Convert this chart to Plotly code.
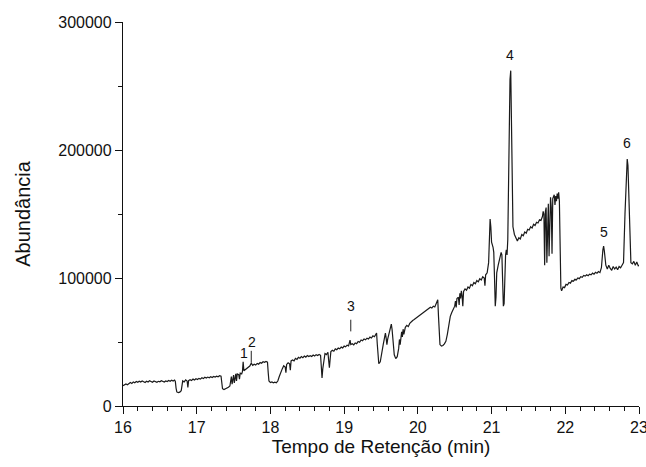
import plotly.graph_objects as go

# Retention time (min) and abundance
tempo = [
    16.00, 16.02, 16.04, 16.06, 16.08, 16.10, 16.12, 16.14, 16.16, 16.18,
    16.20, 16.22, 16.24, 16.26, 16.28, 16.30, 16.32, 16.34, 16.36, 16.38,
    16.40, 16.42, 16.44, 16.46, 16.48, 16.50, 16.52, 16.54, 16.56, 16.58,
    16.60, 16.62, 16.64, 16.66, 16.68, 16.70, 16.71, 16.72, 16.73, 16.75,
    16.77, 16.79, 16.80, 16.81, 16.83, 16.85, 16.87, 16.88, 16.89, 16.91,
    16.93, 16.95, 16.97, 16.99, 17.01, 17.03, 17.05, 17.07, 17.09, 17.11,
    17.13, 17.15, 17.17, 17.19, 17.21, 17.23, 17.25, 17.27, 17.29, 17.31,
    17.33, 17.34, 17.35, 17.37, 17.39, 17.41, 17.43, 17.45, 17.46, 17.47,
    17.48, 17.49, 17.50, 17.51, 17.52, 17.53, 17.54, 17.55, 17.57, 17.58,
    17.59, 17.61, 17.62, 17.63, 17.64, 17.66, 17.68, 17.70, 17.72, 17.74,
    17.76, 17.78, 17.80, 17.82, 17.84, 17.86, 17.88, 17.90, 17.92, 17.94,
    17.96, 17.97, 17.98, 18.00, 18.02, 18.04, 18.06, 18.08, 18.10, 18.12,
    18.14, 18.16, 18.18, 18.20, 18.21, 18.22, 18.24, 18.26, 18.27, 18.28,
    18.30, 18.32, 18.34, 18.36, 18.38, 18.40, 18.42, 18.44, 18.46, 18.48,
    18.50, 18.52, 18.54, 18.56, 18.58, 18.60, 18.62, 18.64, 18.66, 18.68,
    18.69, 18.70, 18.71, 18.72, 18.74, 18.76, 18.78, 18.79, 18.80, 18.81,
    18.82, 18.84, 18.86, 18.88, 18.90, 18.92, 18.94, 18.96, 18.98, 19.00,
    19.02, 19.04, 19.06, 19.08, 19.09, 19.11, 19.13, 19.15, 19.17, 19.19,
    19.21, 19.23, 19.25, 19.27, 19.29, 19.31, 19.33, 19.35, 19.37, 19.39,
    19.41, 19.43, 19.44, 19.45, 19.46, 19.47, 19.49, 19.51, 19.53, 19.55,
    19.56, 19.57, 19.58, 19.59, 19.61, 19.63, 19.64, 19.65, 19.66, 19.68,
    19.70, 19.72, 19.74, 19.75, 19.76, 19.78, 19.79, 19.80, 19.81, 19.83,
    19.85, 19.87, 19.89, 19.91, 19.93, 19.95, 19.97, 19.99, 20.01, 20.03,
    20.05, 20.07, 20.09, 20.11, 20.13, 20.15, 20.17, 20.19, 20.21, 20.23,
    20.25, 20.27, 20.28, 20.29, 20.30, 20.32, 20.34, 20.36, 20.38, 20.40,
    20.42, 20.44, 20.46, 20.48, 20.50, 20.51, 20.52, 20.53, 20.55, 20.56,
    20.57, 20.58, 20.59, 20.60, 20.61, 20.62, 20.64, 20.66, 20.68, 20.70,
    20.72, 20.74, 20.76, 20.78, 20.80, 20.82, 20.84, 20.86, 20.88, 20.90,
    20.91, 20.92, 20.94, 20.96, 20.97, 20.98, 20.99, 21.00, 21.02, 21.03,
    21.04, 21.05, 21.06, 21.07, 21.09, 21.11, 21.13, 21.14, 21.15, 21.16,
    21.17, 21.18, 21.19, 21.20, 21.21, 21.22, 21.23, 21.24, 21.25, 21.26,
    21.27, 21.28, 21.29, 21.31, 21.33, 21.35, 21.37, 21.39, 21.41, 21.43,
    21.45, 21.47, 21.49, 21.51, 21.53, 21.55, 21.57, 21.59, 21.61, 21.63,
    21.65, 21.67, 21.69, 21.70, 21.71, 21.72, 21.73, 21.74, 21.75, 21.76,
    21.77, 21.78, 21.79, 21.80, 21.81, 21.82, 21.83, 21.85, 21.86, 21.87,
    21.88, 21.89, 21.90, 21.91, 21.92, 21.93, 21.94, 21.95, 21.97, 21.99,
    22.01, 22.03, 22.05, 22.07, 22.09, 22.11, 22.13, 22.15, 22.17, 22.19,
    22.21, 22.23, 22.25, 22.27, 22.29, 22.31, 22.33, 22.35, 22.37, 22.39,
    22.41, 22.43, 22.45, 22.47, 22.49, 22.51, 22.52, 22.53, 22.55, 22.57,
    22.59, 22.61, 22.63, 22.65, 22.67, 22.69, 22.71, 22.73, 22.75, 22.77,
    22.79, 22.81, 22.83, 22.84, 22.85, 22.87, 22.88, 22.89, 22.91, 22.93,
    22.95, 22.97, 22.99, 23.00,
]

abundancia = [
    15800, 16900, 17200, 16600, 17800, 18300, 17600, 18800, 18200, 19100,
    18500, 19400, 18700, 19600, 19000, 18400, 19300, 18800, 19700, 19100,
    18600, 19500, 19000, 18500, 19300, 18900, 19800, 19200, 18700, 19600,
    19100, 19900, 19300, 20100, 19500, 20300, 19200, 14000, 11000, 10400,
    10800, 12000, 17500, 19600, 18800, 20400, 19500, 14500, 19800, 20600,
    19900, 21000, 20300, 21300, 20700, 21600, 21000, 22000, 21400, 22400,
    21800, 22600, 22100, 22900, 22300, 23100, 22600, 23300, 22800, 23600,
    23200, 18000, 13500, 12800, 13200, 13900, 14600, 15600, 20500, 23000,
    17000, 23500, 24200, 18000, 24600, 25100, 19500, 25000, 24500, 21000,
    25600, 25100, 26800, 34500, 27500, 28600, 29800, 30500, 31200, 33500,
    31800, 32600, 32000, 33300, 32700, 34000, 33400, 34600, 34100, 34800,
    34300, 26000, 19500, 18300, 18800, 18100, 18600, 18200, 19500, 23000,
    26500, 29000, 31500, 30500, 26000, 32500, 33800, 33000, 28000, 35200,
    36000, 35300, 37200, 36400, 38000, 37300, 38600, 37800, 39000, 38200,
    39400, 38600, 39300, 38700, 39800, 39100, 40100, 39500, 40300, 39600,
    31000, 22000, 29000, 34000, 41000, 40200, 42000, 35500, 30000, 36500,
    42500, 43500, 42800, 44600, 44000, 45300, 44700, 46000, 45400, 46800,
    46200, 47500, 47000, 51500, 48000, 48600, 47800, 49300, 48700, 50400,
    49800, 51600, 51000, 52400, 51700, 53000, 52300, 53800, 53100, 54800,
    54100, 56000, 57000, 48000, 36000, 33000, 34500, 40000, 48000, 54000,
    57000, 53000, 48000, 52000, 58000, 63000, 64000, 60000, 50000, 40000,
    37000, 38500, 45000, 52000, 48000, 58000, 54000, 60000, 56000, 61500,
    63000, 62000, 64500, 65800, 66800, 67500, 68400, 69100, 70000, 71200,
    72000, 73100, 74000, 74800, 75600, 76300, 77200, 76600, 78000, 77400,
    80500, 83000, 70000, 55000, 48000, 46800, 47300, 48500, 50500, 56000,
    64000, 70000, 73000, 75000, 78000, 82000, 77000, 84000, 85000, 79000,
    88000, 84000, 90000, 86000, 78000, 89500, 91500, 90500, 93000, 92000,
    95000, 94000, 96500, 95500, 98000, 97000, 99500, 98500, 101000, 100000,
    94000, 102500, 104000, 112000, 140000, 146000, 140000, 128000, 124000, 120000,
    100000, 78000, 85000, 104000, 110000, 114000, 120000, 118000, 100000, 78000,
    80000, 105000, 118000, 122000, 118000, 130000, 190000, 230000, 255000, 262000,
    220000, 160000, 140000, 134000, 132000, 129000, 131500, 130500, 134000, 133000,
    136000, 135000, 138000, 137500, 140000, 139000, 142000, 141000, 143500, 143000,
    145500, 145000, 148000, 152000, 150000, 110000, 152000, 155000, 112000, 156000,
    158000, 117000, 160000, 163000, 155000, 119000, 162000, 165000, 157000, 164000,
    160000, 166000, 162000, 167000, 160000, 110000, 92000, 90000, 93000, 92500,
    95000, 94500, 96500, 96000, 98000, 97500, 99000, 98500, 100000, 99500,
    101000, 100500, 102000, 101500, 102500, 101800, 103000, 102500, 103800, 103000,
    104500, 103800, 105000, 104200, 108000, 122000, 125000, 121000, 110000, 107000,
    110000, 107500, 106000, 109000, 107000, 108500, 106500, 109000, 108000, 110000,
    112000, 150000, 185000, 193000, 188000, 150000, 118000, 112000, 111000, 113000,
    110000, 112500, 109500, 110000,
]

# Peak labels
rotulos = ["1", "2", "3", "4", "5", "6"]
rotulo_tempo = [17.637, 17.755, 19.094, 21.255, 22.52, 22.835]
rotulo_abund = [41300, 49700, 77900, 274300, 135900, 205100]

# Small vertical marker lines under labels 2 and 3
marca_tempo = [17.74, 19.09]
marca_y0 = [34000, 58300]
marca_y1 = [43100, 67400]

FONT = "Arial, Liberation Sans, Helvetica, sans-serif"

fig = go.Figure()
fig.add_trace(go.Scatter(
    x=tempo, y=abundancia, mode="lines",
    line=dict(color="#1a1a1a", width=1.2),
    showlegend=False, hoverinfo="x+y",
))

for txt, t, a in zip(rotulos, rotulo_tempo, rotulo_abund):
    fig.add_annotation(x=t, y=a, text=txt, showarrow=False,
                       font=dict(family=FONT, size=14, color="#111"),
                       xanchor="center", yanchor="middle")

for t, y0, y1 in zip(marca_tempo, marca_y0, marca_y1):
    fig.add_shape(type="line", xref="x", yref="y", x0=t, x1=t, y0=y0, y1=y1,
                  line=dict(color="#222", width=1))

fig.update_layout(
    width=646, height=467,
    margin=dict(l=123, r=7, t=22, b=61, autoexpand=False),
    paper_bgcolor="white", plot_bgcolor="white",
    font=dict(family=FONT, color="#111"),
    xaxis=dict(
        range=[16, 23], tickmode="linear", tick0=16, dtick=1,
        automargin=False,
        showgrid=False, zeroline=False, showline=True, linecolor="#111", linewidth=1.3,
        ticks="outside", ticklen=7, tickwidth=1.3, tickcolor="#111",
        tickfont=dict(size=16, family=FONT), ticklabeloverflow="allow",
        minor=dict(ticks="outside", ticklen=3.5, tickwidth=1.2, tickcolor="#111",
                   dtick=0.2, tick0=16, showgrid=False),
        title=dict(text="Tempo de Retenção (min)", font=dict(size=19, family=FONT), standoff=4),
    ),
    yaxis=dict(
        range=[0, 300000], tickmode="linear", tick0=0, dtick=100000,
        automargin=False,
        showgrid=False, zeroline=False, showline=True, linecolor="#111", linewidth=1.3,
        ticks="outside", ticklen=7, tickwidth=1.3, tickcolor="#111",
        tickformat="d", separatethousands=False,
        tickfont=dict(size=16, family=FONT),
        minor=dict(ticks="outside", ticklen=3.5, tickwidth=1.2, tickcolor="#111",
                   dtick=50000, tick0=0, showgrid=False),
        title=dict(text="Abundância", font=dict(size=20, family=FONT), standoff=22),
    ),
)

fig.write_html("out.html", config={"displayModeBar": False},
               post_script="document.body.style.margin='0';")
